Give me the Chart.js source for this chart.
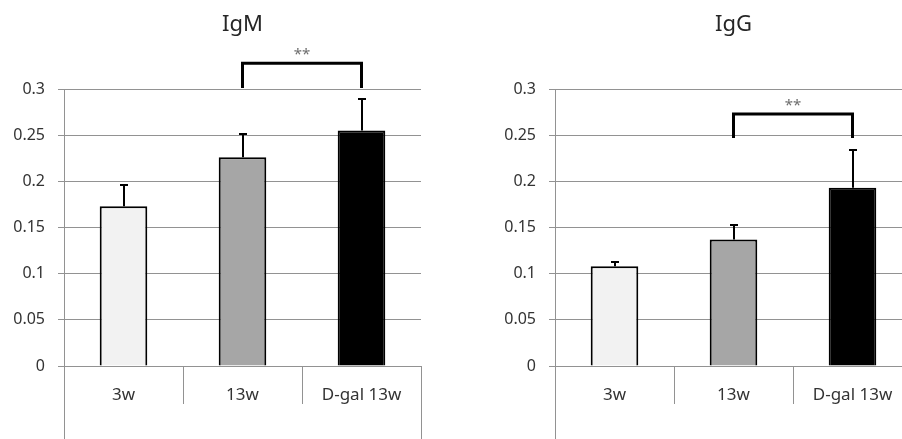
<!DOCTYPE html>
<html>
<head>
<meta charset="utf-8">
<script src="https://cdn.jsdelivr.net/npm/chart.js@4.4.1/dist/chart.umd.min.js"></script>
<style>
  html, body { margin: 0; padding: 0; background: #ffffff; width: 902px; height: 439px; overflow: hidden; }
  .wrap { position: absolute; top: 0; height: 439px; }
  #w1 { left: 0px; width: 450px; }
  #w2 { left: 491px; width: 421px; }
</style>
</head>
<body>
<div class="wrap" id="w1"><canvas id="c1"></canvas></div>
<div class="wrap" id="w2"><canvas id="c2"></canvas></div>
<script>
// ---- data ----
const categories = ['3w', '13w', 'D-gal 13w'];
const igmMeans  = [0.173, 0.226, 0.255];
const igmErrors = [0.023, 0.025, 0.034];
const iggMeans  = [0.108, 0.137, 0.193];
const iggErrors = [0.005, 0.016, 0.041];
const barColors = ['#f2f2f2', '#a6a6a6', '#000000'];
const yMin = 0, yMax = 0.3, yStep = 0.05;
// significance brackets: [fromIndex, toIndex, topValue, legBottomValue, labelValue]
const igmBracket = [1, 2, 0.328, 0.301, 0.340];
const iggBracket = [1, 2, 0.273, 0.247, 0.285];
const sigLabel = '**';

const FONT = '"Noto Sans", "Open Sans", sans-serif';
const GRID = '#929292';

const errorBarPlugin = {
  id: 'errorBars',
  afterDatasetsDraw(chart, args, opts) {
    const meta = chart.getDatasetMeta(0);
    const ys = chart.scales.y;
    const ctx = chart.ctx;
    ctx.save();
    ctx.strokeStyle = '#000';
    ctx.lineWidth = 2;
    meta.data.forEach((bar, i) => {
      const v = chart.data.datasets[0].data[i];
      const top = Math.round(ys.getPixelForValue(v + opts.errors[i]));
      const x = Math.round(bar.x);
      ctx.beginPath();
      ctx.moveTo(x, bar.y);
      ctx.lineTo(x, top);
      ctx.moveTo(x - 4, top);
      ctx.lineTo(x + 4, top);
      ctx.stroke();
    });
    ctx.restore();
  }
};

const bracketPlugin = {
  id: 'bracket',
  afterDraw(chart, args, opts) {
    const b = opts.spec;
    const xs = chart.scales.x, ys = chart.scales.y;
    const x1 = xs.getPixelForValue(b[0]);
    const x2 = xs.getPixelForValue(b[1]);
    const yT = ys.getPixelForValue(b[2]);
    const yB = ys.getPixelForValue(b[3]);
    const ctx = chart.ctx;
    ctx.save();
    ctx.strokeStyle = '#000';
    ctx.lineWidth = 3;
    ctx.lineJoin = 'miter';
    ctx.beginPath();
    ctx.moveTo(x1, yB);
    ctx.lineTo(x1, yT);
    ctx.lineTo(x2, yT);
    ctx.lineTo(x2, yB);
    ctx.stroke();
    ctx.fillStyle = '#6e6e6e';
    ctx.font = '15px ' + FONT;
    ctx.textAlign = 'center';
    ctx.textBaseline = 'middle';
    ctx.fillText(opts.label, (x1 + x2) / 2, ys.getPixelForValue(b[4]) + 3);
    ctx.restore();
  }
};

const panelTitlePlugin = {
  id: 'panelTitle',
  afterDraw(chart, args, opts) {
    const ca = chart.chartArea;
    const ctx = chart.ctx;
    ctx.save();
    ctx.fillStyle = '#262626';
    ctx.font = '22px ' + FONT;
    ctx.textAlign = 'center';
    ctx.textBaseline = 'middle';
    ctx.fillText(opts.text, (ca.left + ca.right) / 2, 25);
    ctx.restore();
  }
};

const frameExtPlugin = {
  id: 'frameExt',
  afterDraw(chart) {
    const ca = chart.chartArea;
    const ctx = chart.ctx;
    ctx.save();
    ctx.strokeStyle = GRID;
    ctx.lineWidth = 1;
    ctx.beginPath();
    [ca.left, ca.right].forEach(x => {
      const px = Math.round(x) + 0.5;
      ctx.moveTo(px, ca.bottom);
      ctx.lineTo(px, chart.height);
    });
    ctx.stroke();
    ctx.restore();
  }
};

function makeChart(id, title, means, errors, bracket, padRight) {
  return new Chart(document.getElementById(id), {
    type: 'bar',
    data: {
      labels: categories,
      datasets: [{
        data: means,
        backgroundColor: barColors,
        borderColor: '#000',
        borderWidth: 2,
        categoryPercentage: 1.0,
        barPercentage: 0.4
      }]
    },
    options: {
      responsive: true,
      maintainAspectRatio: false,
      animation: false,
      events: [],
      layout: { padding: { top: 89, right: padRight, bottom: 0, left: 0 } },
      plugins: {
        legend: { display: false },
        title: { display: false },
        tooltip: { enabled: false },
        errorBars: { errors: errors },
        bracket: { spec: bracket, label: sigLabel },
        panelTitle: { text: title }
      },
      scales: {
        x: {
          offset: true,
          grid: {
            display: true, offset: true, drawOnChartArea: false,
            drawTicks: true, tickLength: 38, color: GRID, lineWidth: 1
          },
          border: { display: true, color: GRID, width: 1 },
          ticks: { color: '#333', font: { family: FONT, size: 17 }, padding: -19, maxRotation: 0, autoSkip: false },
          afterFit: (s) => { s.height = 73; }
        },
        y: {
          min: yMin, max: yMax,
          grid: { color: GRID, lineWidth: 1, drawTicks: true, tickLength: 6 },
          border: { display: true, color: GRID, width: 1 },
          ticks: {
            stepSize: yStep,
            color: '#333',
            font: { family: FONT, size: 16 },
            padding: 13,
            callback: (v) => String(Number(v.toFixed(2)))
          },
          afterFit: (s) => { s.width = 64; }
        }
      }
    },
    plugins: [errorBarPlugin, bracketPlugin, panelTitlePlugin, frameExtPlugin]
  });
}

makeChart('c1', 'IgM', igmMeans, igmErrors, igmBracket, 29);
makeChart('c2', 'IgG', iggMeans, iggErrors, iggBracket, 0);
</script>
</body>
</html>
